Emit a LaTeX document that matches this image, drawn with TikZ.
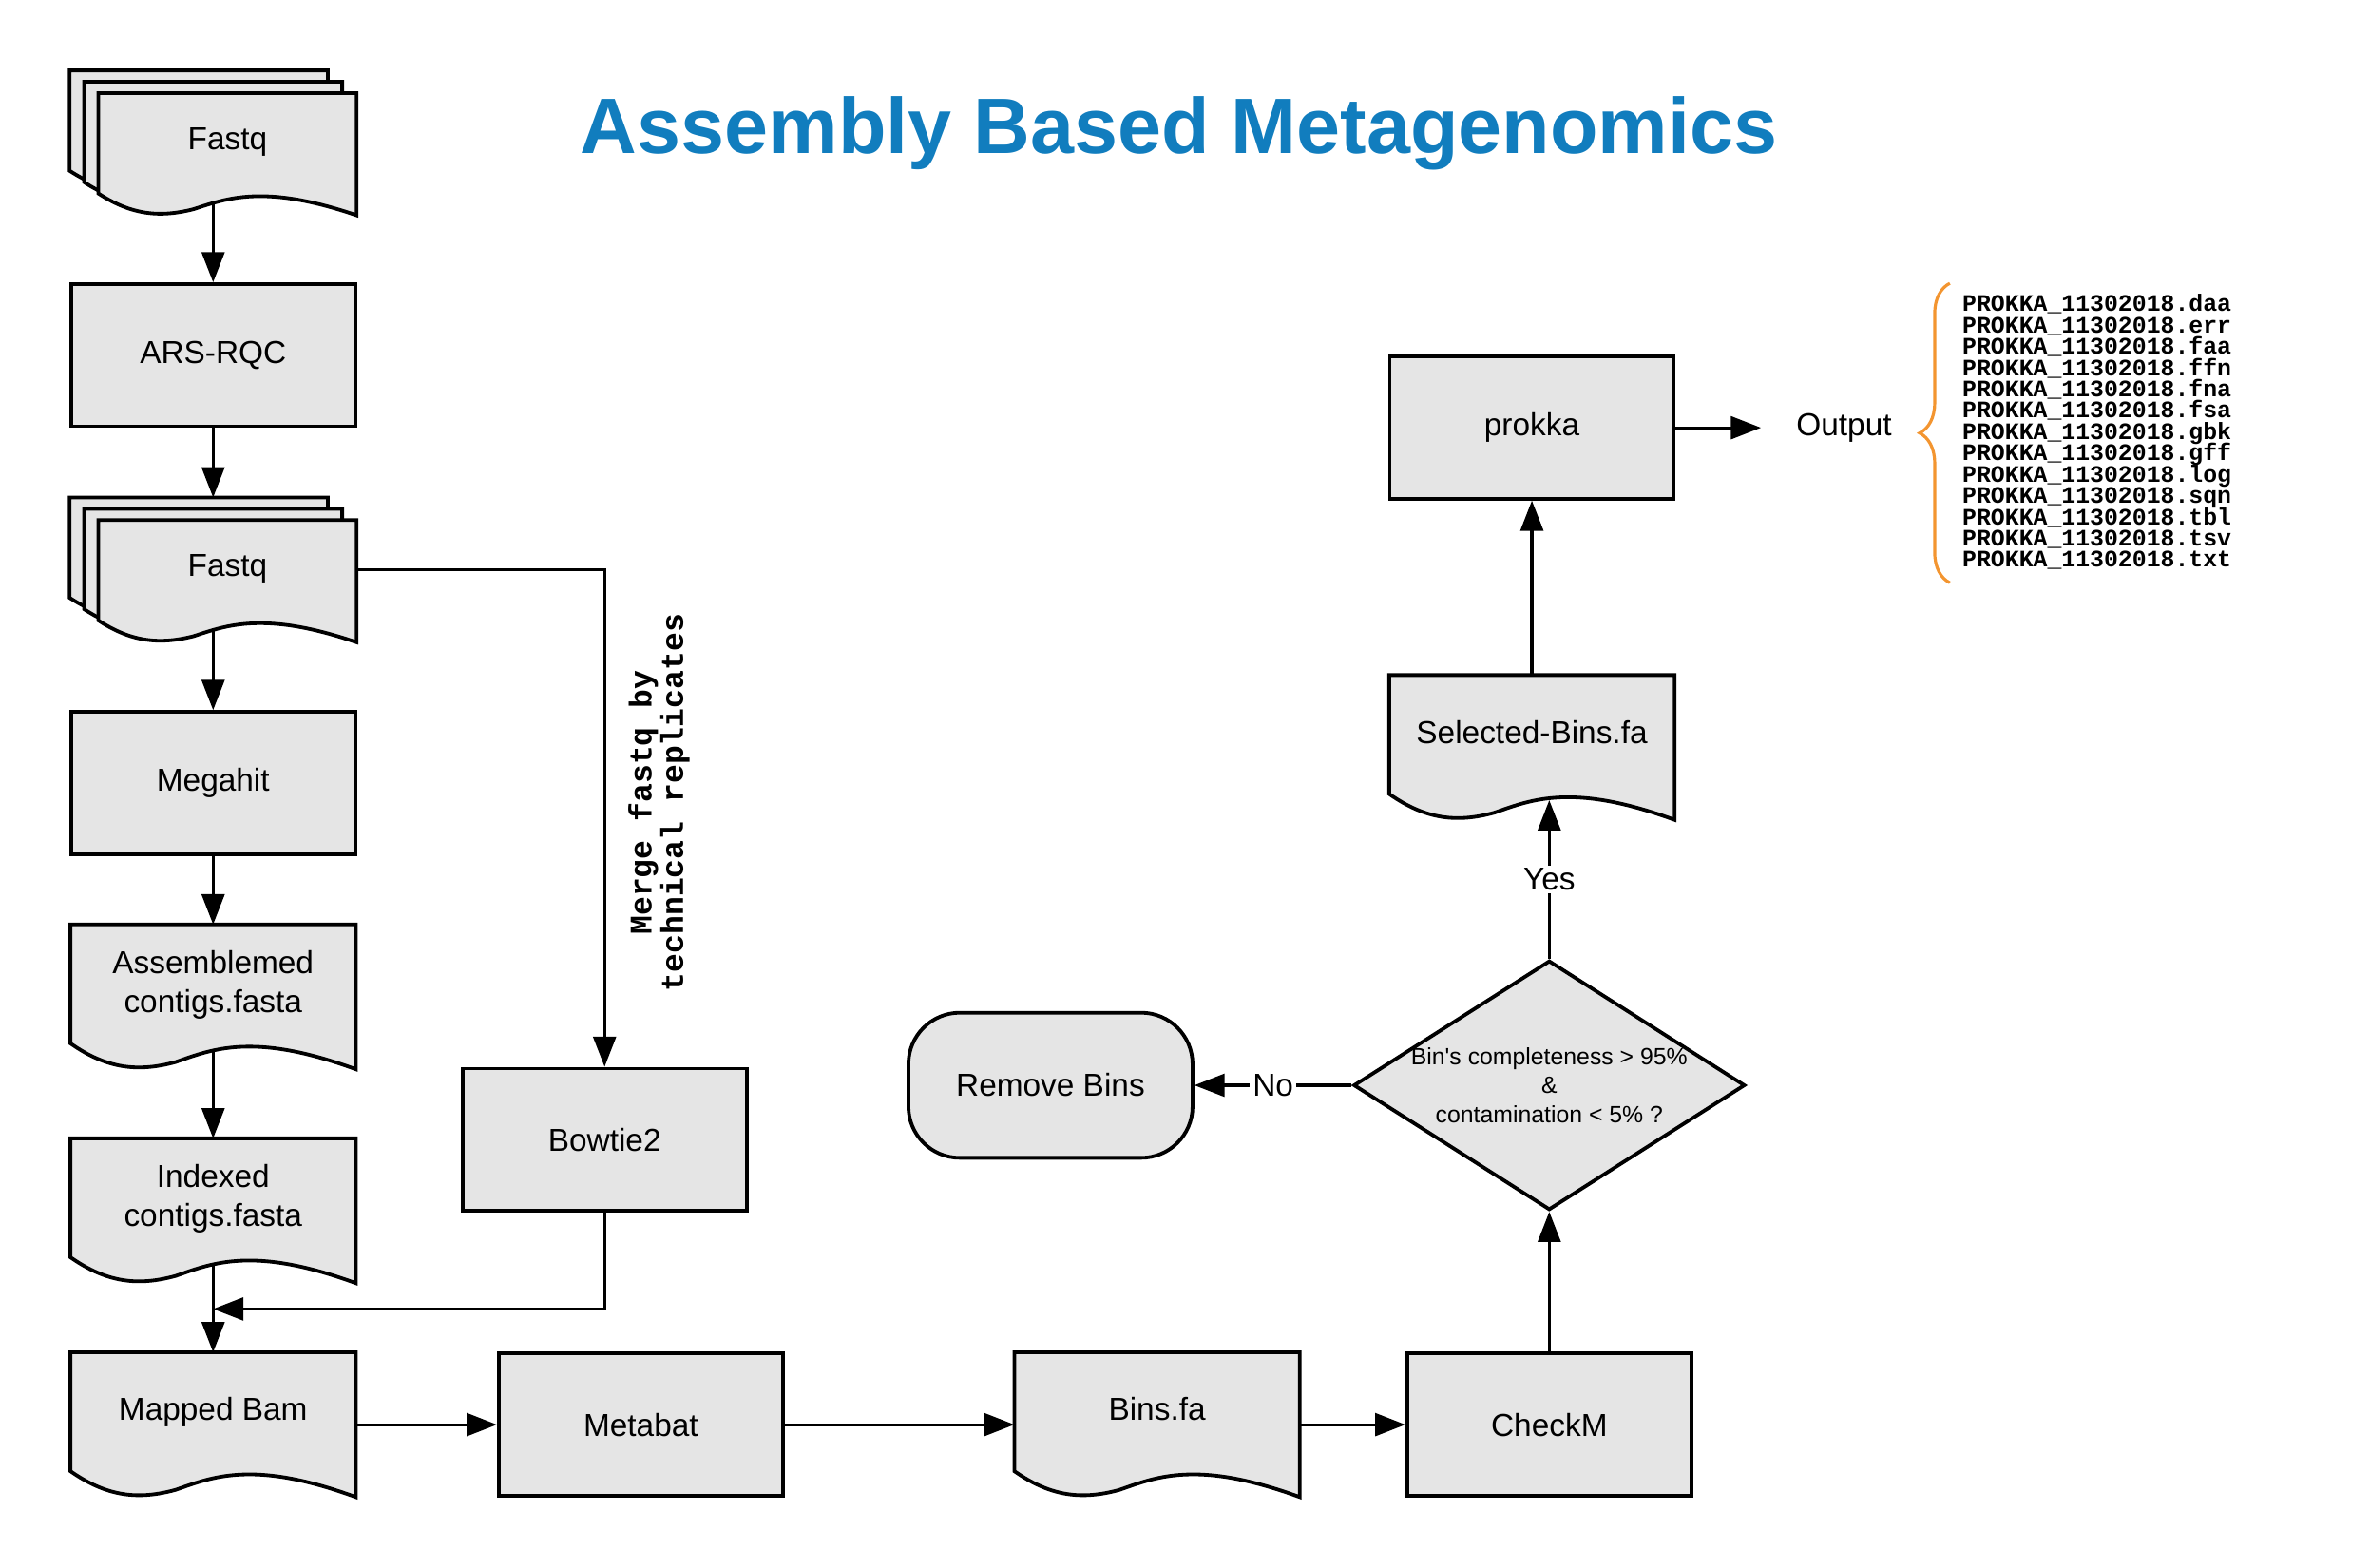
\documentclass[tikz,border=0pt]{standalone}
\usepackage{fontspec}
\setmainfont{Liberation Sans}
\setmonofont{Liberation Mono}
\usetikzlibrary{arrows.meta,shapes.geometric,backgrounds,calc,decorations.pathreplacing}
\definecolor{boxgray}{HTML}{E5E5E5}
\definecolor{titleblue}{HTML}{117DBE}
\definecolor{braceorange}{HTML}{F39530}
% wavy document outline: node, width, height, dx, dy
\newcommand{\docoutline}[5]{([shift={(#4,#5)}]#1.north west) -- ([shift={(#4,#5)}]#1.north east)
  -- ([shift={(#4,#5)}]#1.south east)
  .. controls +({-0.36*#2},{-0.26*#3}) and +({0.13*#2},{-0.09*#3})
  .. ([shift={({#4+0.37*#2},{#5-0.05*#3})}]#1.south west)
  .. controls +({-0.13*#2},{0.07*#3}) and +({0.13*#2},{0.18*#3})
  .. ([shift={(#4,{#5-0.18*#3})}]#1.south west) -- cycle}
% one line of the prokka file list, fixed line pitch
\newcommand{\pkline}[1]{\hbox{\vrule height 5.6pt depth 1.45pt width 0pt\smash{PROKKA\_11302018.#1}}}

\tikzset{
  proc/.style={rectangle, draw, fill=boxgray, line width=1.2pt, minimum width=94pt,
    minimum height=47pt, inner sep=0pt, font=\fontsize{10.5}{13}\selectfont},
  doc/.style={rectangle, minimum width=94pt, minimum height=47.5pt, inner sep=0pt,
    align=center, text depth=10.3pt, font=\fontsize{10.5}{13}\selectfont},
  stackdoc/.style={doc, minimum width=85pt, minimum height=40pt},
  docline/.style={draw, fill=boxgray, line width=1.2pt},
  decide/.style={diamond, draw, fill=boxgray, line width=1.2pt, aspect=1.57,
    minimum width=129.5pt, minimum height=82.5pt, inner sep=-1pt, align=center,
    font=\fontsize{7.8}{9.5}\selectfont},
  term/.style={rectangle, rounded corners=17pt, draw, fill=boxgray, line width=1.2pt,
    minimum width=94pt, minimum height=48pt, font=\fontsize{10.5}{13}\selectfont},
  arr/.style={line width=1pt, -{Triangle[length=10pt,width=7.5pt]}},
  lbl/.style={fill=white, inner sep=1pt, font=\fontsize{10.5}{13}\selectfont},
}

\begin{document}
\begin{tikzpicture}[x=0.5pt,y=-0.5pt]
\useasboundingbox (0,0) rectangle (1568,1037);

\node (title) at (780,88) {\fontsize{26}{31}\selectfont\bfseries\color{titleblue}Assembly Based Metagenomics};

% left column
\node [stackdoc] (fqa) at (150.5,102) {Fastq};
\node [proc] (ars) at (141,235) {ARS-RQC};
\node [stackdoc] (fqb) at (150.5,384.5) {Fastq};
\node [proc] (mega) at (141,518) {Megahit};
\node [doc] (asm) at (141,659.5) {Assemblemed\\contigs.fasta};
\node [doc] (idx) at (141,801) {Indexed\\contigs.fasta};
\node [doc] (bam) at (141,942.5) {Mapped Bam};
\node [proc] (bow) at (400,754) {Bowtie2};
\node [rotate=90, align=center, font=\ttfamily\bfseries\fontsize{10.4}{10.5}\selectfont]
  (merge) at (436,531) {Merge fastq by\\technical replicates};

% bottom row and right side
\node [proc] (meta) at (424,942.5) {Metabat};
\node [doc] (bins) at (765.5,942.5) {Bins.fa};
\node [proc] (chkm) at (1025,942.5) {CheckM};
\node [decide] (dec) at (1025,718) {Bin\textquotesingle s completeness > 95\%\\\&\\contamination < 5\% ?};
\node [term] (rmv) at (695,718) {Remove Bins};
\node [doc] (sel) at (1013.5,494.5) {Selected-Bins.fa};
\node [proc] (prk) at (1013.5,283) {prokka};
\node [inner xsep=11.5pt, font=\fontsize{10.5}{13}\selectfont] (out) at (1220,283) {Output};
\node [anchor=west, inner sep=0pt, font=\ttfamily\bfseries\fontsize{7.8}{7.05}\selectfont]
  (files) at (1298,286.5) {\vbox{\offinterlineskip
  \pkline{daa}\pkline{err}\pkline{faa}\pkline{ffn}\pkline{fna}\pkline{fsa}\pkline{gbk}
  \pkline{gff}\pkline{log}\pkline{sqn}\pkline{tbl}\pkline{tsv}\pkline{txt}}};

\coordinate (join) at (141,866);

\begin{scope}[on background layer]
\path [docline] \docoutline{fqa}{170}{80}{-19}{-15};
\path [docline] \docoutline{fqa}{170}{80}{-9.5}{-7.5};
\path [docline] \docoutline{fqa}{170}{80}{0}{0};
\path [docline] \docoutline{fqb}{170}{80}{-19}{-15};
\path [docline] \docoutline{fqb}{170}{80}{-9.5}{-7.5};
\path [docline] \docoutline{fqb}{170}{80}{0}{0};
\path [docline] \docoutline{asm}{188}{95}{0}{0};
\path [docline] \docoutline{idx}{188}{95}{0}{0};
\path [docline] \docoutline{bam}{188}{95}{0}{0};
\path [docline] \docoutline{bins}{188}{95}{0}{0};
\path [docline] \docoutline{sel}{188}{95}{0}{0};
\end{scope}

\draw [braceorange, line width=1pt, decorate, decoration={brace, amplitude=10pt}]
  ([shift={(-8,7)}]files.south west) -- ([shift={(-8,-7)}]files.north west);

\path [arr]
($(fqa.south -| ars.north)+(0,-8)$) edge (ars.north)
(ars.south) edge ($(ars.south |- fqb.north)+(0,-15)$)
($(fqb.south -| mega.north)+(0,-8)$) edge (mega.north)
(mega.south) edge (asm.north)
($(asm.south)+(0,-12)$) edge (idx.north)
($(idx.south)+(0,-12)$) edge (bam.north)
(bam.east) edge (meta.west)
(meta.east) edge (bins.west)
(bins.east) edge (chkm.west)
(chkm.north) edge (dec.south)
(dec.west) edge node [lbl] {No} (rmv.east)
(dec.north) edge node [lbl] {Yes} ($(dec.north |- sel.south)+(0,-13)$)
(sel.north) edge (prk.south)
(prk.east) edge (out.west)
;

\draw [arr] ($(fqb.east)+(0,-7.5)$) -| (bow.north);
\draw [arr] (bow.south) |- (join);

\end{tikzpicture}
\end{document}
